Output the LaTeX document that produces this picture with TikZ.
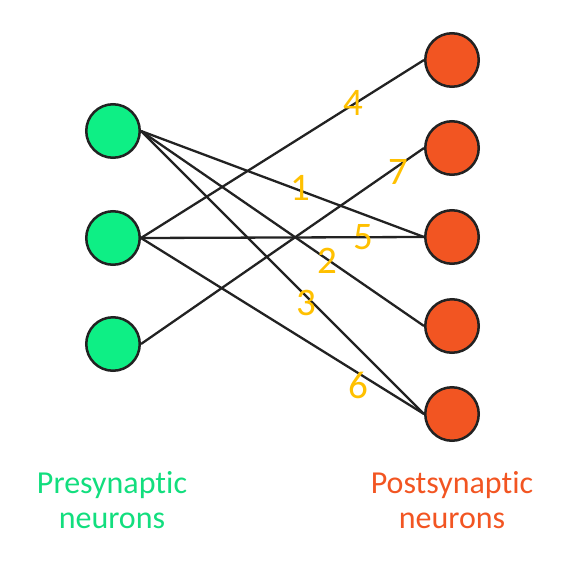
\documentclass[tikz,border=0pt]{standalone}
\usepackage{fontspec}
\setmainfont{Carlito}[Ligatures={NoCommon,NoRare}]
\definecolor{pre}{HTML}{0EEF85}
\definecolor{post}{HTML}{F25522}
\definecolor{pretxt}{HTML}{12DE7E}
\definecolor{lab}{HTML}{FFC000}
\definecolor{ink}{HTML}{222222}
\begin{document}
\begin{tikzpicture}[x=1pt,y=-1pt,
  neuron/.style={circle,draw=ink,line width=2.5pt,minimum size=53.5pt,inner sep=0pt},
  prenode/.style={neuron,fill=pre},
  postnode/.style={neuron,fill=post},
  syn/.style={draw=ink,line width=2.3pt},
  wlabel/.style={text=lab,font=\fontsize{39}{39}\selectfont,inner sep=0pt},
  caption/.style={align=center,font=\fontsize{32}{35}\selectfont,inner sep=0pt}]
\useasboundingbox (0,0) rectangle (564,570);
\node[prenode] (L1) at (113,131) {};
\node[prenode] (L2) at (113,238) {};
\node[prenode] (L3) at (113,344) {};
\node[postnode] (R1) at (452,60) {};
\node[postnode] (R2) at (452,148) {};
\node[postnode] (R3) at (452,237) {};
\node[postnode] (R4) at (452,326) {};
\node[postnode] (R5) at (452,414) {};
\draw[syn] (L1.east) -- (R3.west);
\draw[syn] (L1.east) -- (R4.west);
\draw[syn] (L1.east) -- (R5.west);
\draw[syn] (L2.east) -- (R1.west);
\draw[syn] (L2.east) -- (R3.west);
\draw[syn] (L2.east) -- (R5.west);
\draw[syn] (L3.east) -- (R2.west);
\node[wlabel] (w1) at (300,188) {1};
\node[wlabel] (w2) at (327,261) {2};
\node[wlabel] (w3) at (306,303) {3};
\node[wlabel] (w4) at (353,103) {4};
\node[wlabel] (w5) at (363,237) {5};
\node[wlabel] (w6) at (358,385) {6};
\node[wlabel] (w7) at (398,172) {7};
\node[caption,text=pretxt,anchor=base] (pre) at (112,528) {Presynaptic\\neurons};
\node[caption,text=post,anchor=base] (post) at (452,528) {Postsynaptic\\neurons};
\end{tikzpicture}
\end{document}
